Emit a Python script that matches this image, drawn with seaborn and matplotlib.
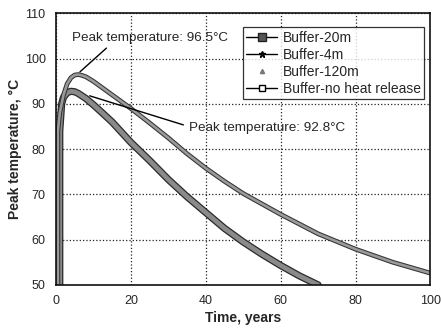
import numpy as np
import pandas as pd
import matplotlib
matplotlib.use("Agg")
import matplotlib.pyplot as plt
import matplotlib.patheffects as pe
from matplotlib.lines import Line2D
from matplotlib.ticker import MultipleLocator
import seaborn as sns

# Buffer with heat release (20m / 4m / 120m spacing curves overlap)
t_heat = [1.0, 1.0, 1.5, 2, 3, 4, 5, 6, 8, 10, 12, 15, 20, 25, 30, 35, 40, 45, 50, 55, 60, 65, 70]
temp_heat = [50, 84, 90, 91.5, 92.5, 92.8, 92.7, 92.3, 91.2, 89.8, 88.3, 86, 81.5, 77.5, 73.3,
             69.5, 66, 62.5, 59.5, 56.8, 54.3, 52, 50]

# Buffer without heat release
t_noheat = [0.5, 0.5, 1, 1.5, 2, 3, 4, 5, 6, 7, 8, 10, 12, 15, 20, 25, 30, 35, 40, 45, 50,
            60, 70, 80, 90, 100]
temp_noheat = [50, 84, 88, 90, 92, 94.5, 95.8, 96.4, 96.5, 96.3, 96, 95, 93.8, 92, 89, 85.8,
               82.5, 79, 75.8, 72.9, 70.2, 65.6, 61.3, 57.9, 55, 52.6]

legend_labels = ["Buffer-20m", "Buffer-4m", "Buffer-120m", "Buffer-no heat release"]

sns.set_style("white")
plt.rcParams['font.family'] = ['Liberation Sans', 'DejaVu Sans']

fig = plt.figure(figsize=(4.41, 3.29), dpi=100)
ax = fig.add_axes([0.127, 0.134, 0.849, 0.825])

df_heat = pd.DataFrame({'t': t_heat, 'T': temp_heat})
df_noheat = pd.DataFrame({'t': t_noheat, 'T': temp_noheat})

sns.lineplot(data=df_heat, x='t', y='T', sort=False, estimator=None, ax=ax,
             color='#8a8a8a', linewidth=3.4,
             path_effects=[pe.Stroke(linewidth=5.2, foreground='#2a2a2a'), pe.Normal()])
sns.lineplot(data=df_noheat, x='t', y='T', sort=False, estimator=None, ax=ax,
             color='#9a9a9a', linewidth=1.9,
             path_effects=[pe.Stroke(linewidth=3.4, foreground='#333333'), pe.Normal()])

ax.set_xlim(0, 100)
ax.set_ylim(50, 110)
ax.xaxis.set_major_locator(MultipleLocator(20))
ax.xaxis.set_minor_locator(MultipleLocator(10))
ax.yaxis.set_major_locator(MultipleLocator(10))
ax.yaxis.set_minor_locator(MultipleLocator(5))
ax.tick_params(which='major', direction='out', length=4, width=1, labelsize=9)
ax.tick_params(which='minor', direction='in', length=3, width=1)
ax.grid(True, which='major', color='#222222', linestyle=':', linewidth=0.9)
for s in ax.spines.values():
    s.set_linewidth(1.2)
    s.set_color('#111111')

ax.set_xlabel('Time, years', fontsize=10, fontweight='bold', labelpad=3)
ax.set_ylabel('Peak temperature, °C', fontsize=10, fontweight='bold', labelpad=2)

ax.annotate('Peak temperature: 96.5°C', xy=(6.4, 97.1), xytext=(4.3, 104.6),
            fontsize=9.7, va='center', ha='left',
            arrowprops=dict(arrowstyle='-', color='black', lw=1.0,
                            relpos=(0.25, 0.0), shrinkA=1, shrinkB=0))
ax.annotate('Peak temperature: 92.8°C', xy=(9, 91.8), xytext=(35.6, 84.7),
            fontsize=9.7, va='center', ha='left',
            arrowprops=dict(arrowstyle='-', color='black', lw=1.0,
                            relpos=(0.0, 0.6), shrinkA=2, shrinkB=0))

handles = [
    Line2D([], [], color='black', lw=1, marker='s', markersize=6,
           markerfacecolor='#555555', markeredgecolor='#222222'),
    Line2D([], [], color='black', lw=1, marker='*', markersize=5, markerfacecolor='black'),
    Line2D([], [], color='none', lw=0, marker='^', markersize=3,
           markerfacecolor='#777777', markeredgecolor='#777777'),
    Line2D([], [], color='black', lw=1, marker='s', markersize=4,
           markerfacecolor='white', markeredgecolor='black'),
]
leg = ax.legend(handles, legend_labels, loc='upper right', bbox_to_anchor=(0.983, 0.95),
                borderaxespad=0, fontsize=10, frameon=True, fancybox=False, borderpad=0.25,
                labelspacing=0.22, handlelength=2.2, handletextpad=0.4)
leg.get_frame().set_edgecolor('black')
leg.get_frame().set_linewidth(0.9)

fig.savefig('out.png', dpi=100)
